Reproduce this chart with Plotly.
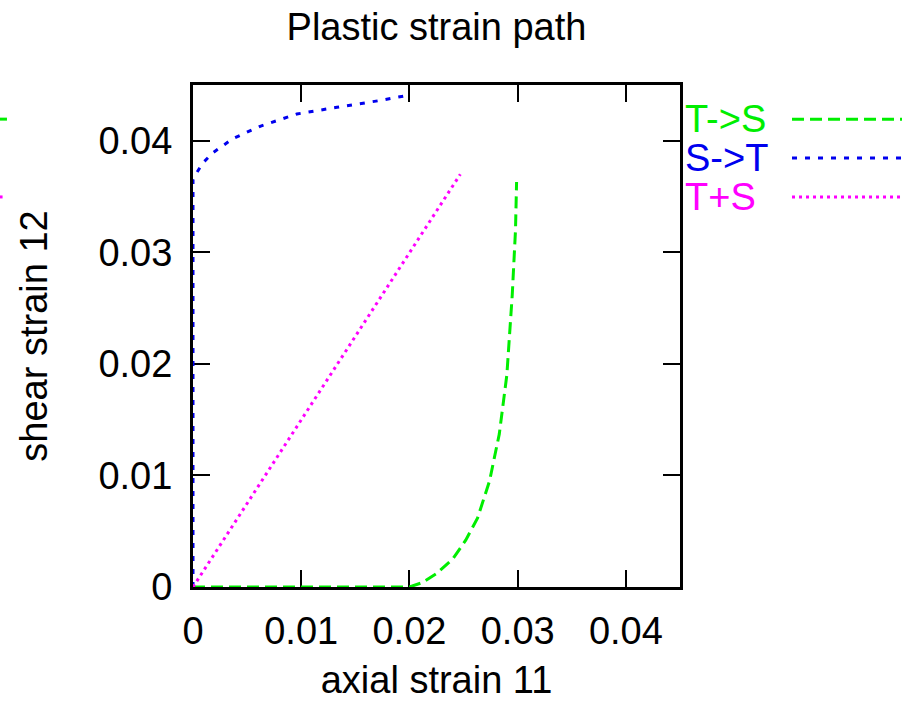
import plotly.graph_objects as go

# ---- data ----
series_names = ["T->S", "S->T", "T+S"]
series_colors = ["#00ee00", "#0000ee", "#ff00ff"]

ts_x = [0.0, 0.02, 0.0212, 0.0225, 0.024, 0.0252, 0.0263, 0.0274, 0.0283, 0.029, 0.0295, 0.0298, 0.0299]
ts_y = [0.0, 0.0, 0.0004, 0.0012, 0.0025, 0.0042, 0.0062, 0.0095, 0.0137, 0.019, 0.0262, 0.032, 0.0363]

st_x = [0.0, 0.0, 0.0002, 0.0009, 0.0018, 0.0037, 0.0062, 0.0096, 0.0133, 0.0172, 0.02]
st_y = [0.0, 0.0365, 0.0369, 0.038, 0.0389, 0.0402, 0.0413, 0.0424, 0.043, 0.0436, 0.0441]

tps_x = [0.0, 0.0247]
tps_y = [0.0, 0.0370]

tick_vals = [0, 0.01, 0.02, 0.03, 0.04]
tick_text = ["0", "0.01", "0.02", "0.03", "0.04"]

FONT = "Liberation Sans, Arial, sans-serif"
FS = 38
dashes = ["12px,6px", "5px,8px", "3px,4px"]

fig = go.Figure()
for xs, ys, name, col, dsh in [
    (ts_x, ts_y, series_names[0], series_colors[0], dashes[0]),
    (st_x, st_y, series_names[1], series_colors[1], dashes[1]),
    (tps_x, tps_y, series_names[2], series_colors[2], dashes[2]),
]:
    fig.add_trace(go.Scatter(x=xs, y=ys, mode="lines", name=name,
                             line=dict(color=col, width=3, dash=dsh),
                             showlegend=False))

# legend built as text + sample line (text left, line right, like gnuplot)
leg_y = [0.932, 0.8546, 0.777]
shapes = []
annotations = []
for name, col, dsh, yy in zip(series_names, series_colors, dashes, leg_y):
    annotations.append(dict(text=name, x=1.006, y=yy, xref="paper", yref="paper",
                            xanchor="left", yanchor="middle", showarrow=False,
                            font=dict(family=FONT, size=FS, color=col)))
    shapes.append(dict(type="line", xref="paper", yref="paper",
                       x0=1.230, x1=1.48, y0=yy, y1=yy,
                       line=dict(color=col, width=3, dash=dsh)))

# wrapped-around bits of legend samples visible at the far left
shapes.append(dict(type="line", xref="paper", yref="paper", x0=-0.397, x1=-0.382,
                   y0=leg_y[0], y1=leg_y[0], line=dict(color=series_colors[0], width=3)))
shapes.append(dict(type="line", xref="paper", yref="paper", x0=-0.397, x1=-0.391,
                   y0=leg_y[2], y1=leg_y[2], line=dict(color=series_colors[2], width=3)))

axis_common = dict(
    range=[0, 0.045], tickvals=tick_vals, ticktext=tick_text,
    ticks="inside", ticklen=17, tickwidth=2, tickcolor="black",
    showline=True, linecolor="black", linewidth=3, mirror="allticks",
    showgrid=False, zeroline=False, layer="below traces", automargin=False,
    tickfont=dict(family=FONT, size=FS, color="black"),
)

fig.update_layout(
    width=902, height=703,
    margin=dict(l=193, r=222, t=85, b=116),
    paper_bgcolor="white", plot_bgcolor="white",
    title=dict(text="Plastic strain path", x=0.5, xref="paper", xanchor="center",
               y=1 - 27 / 703, yref="container", yanchor="middle",
               font=dict(family=FONT, size=FS, color="black")),
    xaxis=dict(**axis_common, ticklabelstandoff=8,
               title=dict(text="axial strain 11", standoff=16,
                          font=dict(family=FONT, size=FS, color="black"))),
    yaxis=dict(**axis_common, ticklabelstandoff=10,
               title=dict(text="shear strain 12", standoff=40,
                          font=dict(family=FONT, size=FS, color="black"))),
    shapes=shapes, annotations=annotations,
)

fig.write_html("out.html")
